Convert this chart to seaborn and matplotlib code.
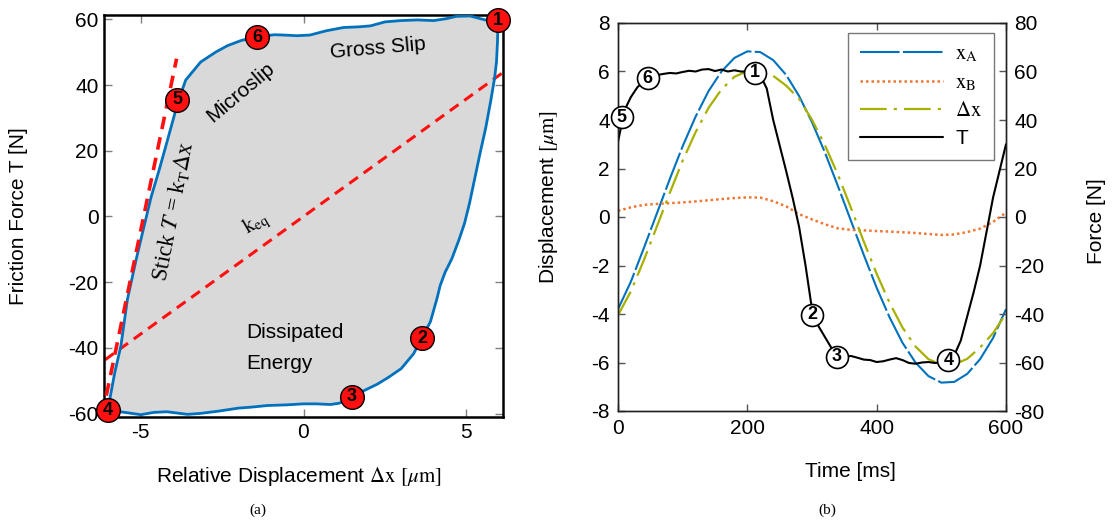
import matplotlib
matplotlib.use("Agg")
import matplotlib.pyplot as plt
import seaborn as sns
import pandas as pd

# ---------------- data: panel (a) hysteresis loop ----------------
loop_dx = [-6.02, -5.97, -5.8, -5.61, -5.41, -5.14, -4.9, -4.68, -4.44, -4.2, -3.98,
           -3.85, -3.62, -3.16, -2.7, -2.33, -1.9, -1.42, -0.9, -0.6, -0.2, 0.2, 0.7,
           1.23, 1.7, 2.06, 2.5, 2.98, 3.5, 4.0, 4.4, 4.7, 5.12, 5.58, 5.98,
           5.96, 5.93, 5.87, 5.75, 5.6, 5.42, 5.25, 5.1, 4.95, 4.78, 4.56, 4.35, 4.2, 4.1,
           3.9, 3.65, 3.38, 3.0, 2.6, 2.27, 1.75, 1.5, 1.1, 0.83, 0.4, 0.0, -0.5, -1.1,
           -1.6, -2.0, -2.6, -3.16, -3.56, -4.2, -4.6, -5.0, -5.35, -5.7, -6.02]
loop_T = [-59.5, -56.5, -47.5, -39.3, -25.2, -13.0, -3.0, 6.0, 14.0, 22.5, 30.4,
          35.0, 41.5, 47, 50, 52, 53.6, 54.6, 55.3, 55.2, 55.0, 55.2, 56.5,
          57.5, 57.7, 58.0, 59.2, 59.6, 59.8, 59.6, 60.2, 60.9, 61.0, 59.8, 59.7,
          53, 47, 42, 35, 27, 19, 11, 4, -2, -7, -12.8, -17, -21, -25,
          -32, -36.7, -41.8, -46.3, -49, -51, -53.5, -55, -56.8, -57.2, -57.0, -57.0, -57.3, -57.5,
          -58.0, -58.3, -59.2, -59.9, -60.2, -59.4, -59.6, -60.3, -59.8, -59.3, -59.5]

stick_dx = [-6.06, -3.9]
stick_T = [-54.5, 48.0]
keq_dx = [-6.1, 6.1]
keq_T = [-43.6, 43.6]

pts_a_labels = ["1", "2", "3", "4", "5", "6"]
pts_a_dx = [5.98, 3.64, 1.49, -6.02, -3.88, -1.42]
pts_a_T = [59.7, -37.0, -54.9, -59.0, 35.5, 54.6]

# ---------------- data: panel (b) time histories ----------------
time_ms = [0, 20, 40, 60, 80, 100, 120, 140, 160, 180, 200, 220, 240, 260, 280, 300,
           320, 340, 360, 380, 400, 420, 440, 460, 480, 500, 520, 540, 560, 580, 600]
xA = [-3.80, -2.66, -1.28, 0.14, 1.56, 2.92, 4.14, 5.19, 6.00, 6.56, 6.83, 6.80, 6.47, 5.86,
      4.99, 3.91, 2.66, 1.28, -0.14, -1.56, -2.92, -4.14, -5.19, -6.00, -6.56, -6.83, -6.80,
      -6.47, -5.86, -4.99, -3.80]
xB = [0.25, 0.40, 0.50, 0.54, 0.57, 0.60, 0.64, 0.69, 0.74, 0.78, 0.81, 0.80, 0.65, 0.44,
      0.12, -0.10, -0.30, -0.47, -0.53, -0.55, -0.58, -0.60, -0.63, -0.66, -0.70, -0.74, -0.72,
      -0.62, -0.48, -0.20, 0.18]
dx = [-4.05, -3.06, -1.78, -0.40, 0.99, 2.32, 3.50, 4.50, 5.26, 5.78, 6.02, 6.00, 5.82, 5.42,
      4.87, 4.01, 2.96, 1.75, 0.39, -1.01, -2.34, -3.54, -4.56, -5.34, -5.86, -6.09, -6.08,
      -5.85, -5.38, -4.79, -3.98]

time_T = [0, 10, 20, 30, 40, 50, 60, 70, 80, 90, 100, 110, 120, 130, 140, 150, 160, 170, 180,
          190, 200, 210, 220, 230, 240, 250, 260, 270, 280, 290, 300, 310, 320, 330, 340, 350,
          360, 370, 380, 390, 400, 410, 420, 430, 440, 450, 460, 470, 480, 490, 500, 510, 520,
          530, 540, 550, 560, 570, 580, 590, 600]
T = [31, 44, 49.5, 53.5, 56, 57.8, 58.5, 59, 59.4, 59.2, 59.8, 60.3, 60, 60.8, 61, 60.2, 60.8,
     60, 60.5, 60, 60, 59.8, 58.5, 53, 40, 29.5, 19, 8, -4, -20, -38, -45, -49.5, -54, -57.5,
     -57.5, -57.3, -58, -58.8, -59, -59.8, -59.5, -58.8, -58.2, -59, -60.2, -60.5, -60, -59.8,
     -60.2, -60, -59, -57, -51, -41, -31, -20, -6, 8, 19, 30]

pts_b_labels = ["5", "6", "1", "2", "3", "4"]
pts_b_t = [6, 46, 212, 300, 338, 511]
pts_b_T = [41.2, 57.3, 59.5, -40.4, -57.7, -59.0]

legend_labels = [r"$\mathrm{x}_\mathrm{A}$", r"$\mathrm{x}_\mathrm{B}$", r"$\Delta\mathrm{x}$", "T"]

# ---------------- style ----------------
sns.set_theme(style="white")
plt.rcParams["font.family"] = ["Liberation Sans", "DejaVu Sans"]
plt.rcParams["mathtext.fontset"] = "stix"
plt.rcParams["axes.unicode_minus"] = False
plt.rcParams["text.color"] = "black"
plt.rcParams["axes.labelcolor"] = "black"
plt.rcParams["xtick.labelcolor"] = "black"
plt.rcParams["ytick.labelcolor"] = "black"
FS = 15

BLUE = "#0072BD"
ORANGE = "#EE7733"
OLIVE = "#A8B000"
RED = "#FF1010"

fig = plt.figure(figsize=(11.12, 5.22), dpi=100)
W, H = 1112, 522
ax1 = fig.add_axes([104 / W, (H - 417) / H, 399 / W, 402 / H])
ax2 = fig.add_axes([618 / W, (H - 411) / H, 388 / W, 388 / H])

# ---------------- panel (a) ----------------
ax1.fill(loop_dx, loop_T, color="#d9d9d9", zorder=1, lw=0)
sns.lineplot(x=keq_dx, y=keq_T, ax=ax1, color=RED, lw=2.2, linestyle=(0, (3.5, 2.3)),
             estimator=None, sort=False, zorder=2)
sns.lineplot(x=loop_dx, y=loop_T, ax=ax1, color=BLUE, lw=2.0, estimator=None, sort=False, zorder=3)
sns.lineplot(x=stick_dx, y=stick_T, ax=ax1, color=RED, lw=2.6, linestyle=(0, (3.5, 2.3)),
             estimator=None, sort=False, zorder=4)
sns.scatterplot(x=pts_a_dx, y=pts_a_T, ax=ax1, s=290, color=RED, edgecolor="black",
                linewidth=1.0, zorder=6, clip_on=False)
for lab, xv, yv in zip(pts_a_labels, pts_a_dx, pts_a_T):
    ax1.text(xv, yv, lab, ha="center", va="center", fontsize=13, fontweight="bold",
             zorder=7, clip_on=False)

ax1.set_xlim(-6.13, 6.13)
ax1.set_ylim(-61.0, 61.3)
ax1.set_xticks([-5, 0, 5])
ax1.set_yticks([-60, -40, -20, 0, 20, 40, 60])
ax1.set_xticklabels(["-5", "0", "5"])
ax1.set_yticklabels(["-60", "-40", "-20", "0", "20", "40", "60"])
ax1.tick_params(direction="in", length=6, width=1, color="#808080", labelsize=FS,
                labelcolor="black", top=True, right=True, bottom=True, left=True, pad=4)
for sp in ax1.spines.values():
    sp.set_linewidth(1.8)
    sp.set_color("black")
ax1.set_xlabel(r"Relative Displacement $\Delta\mathrm{x}$ $[\mu\mathrm{m}]$", fontsize=FS)
ax1.set_ylabel("Friction Force T [N]", fontsize=FS)
ax1.yaxis.set_label_coords(-0.2155, 0.5)
ax1.yaxis.label.set_va("center")
ax1.xaxis.set_label_coords(0.49, -0.149)
ax1.xaxis.label.set_va("center")

ax1.text(2.3, 51.2, "Gross Slip", fontsize=FS, rotation=5, ha="center", va="center", zorder=5)
ax1.text(-1.93, 37.9, "Microslip", fontsize=FS, rotation=40, ha="center", va="center", zorder=5)
ax1.text(-4.0, 1.5, r"Stick $T$ = k$_\mathrm{T}$$\Delta$x", fontsize=16.5,
         family=["Liberation Serif"], rotation=79, ha="center", va="center", zorder=5)
ax1.text(-1.44, -2.4, r"$\mathrm{k}_\mathrm{eq}$", fontsize=FS, rotation=30,
         ha="center", va="center", zorder=5)
ax1.text(-1.75, -40.0, "Dissipated\nEnergy", fontsize=FS, ha="left", va="center",
         linespacing=1.75, zorder=5)

# ---------------- panel (b) ----------------
ax3 = ax2.twinx()
df = pd.DataFrame({"t": time_ms, "xA": xA, "xB": xB, "dx": dx})
l1 = sns.lineplot(data=df, x="t", y="xA", ax=ax2, color=BLUE, lw=1.5,
                  linestyle=(0, (19, 1.6))).lines[-1]
l2 = sns.lineplot(data=df, x="t", y="xB", ax=ax2, color=ORANGE, lw=1.8,
                  linestyle=(0, (1.0, 1.2))).lines[-1]
l3 = sns.lineplot(data=df, x="t", y="dx", ax=ax2, color=OLIVE, lw=1.6,
                  linestyle=(0, (12, 3.2, 1.4, 3.2))).lines[-1]
l4 = sns.lineplot(x=time_T, y=T, ax=ax3, color="black", lw=1.5, estimator=None).lines[-1]
sns.scatterplot(x=pts_b_t, y=pts_b_T, ax=ax3, s=250, color="white", edgecolor="black",
                linewidth=1.2, zorder=6, clip_on=False)
for lab, xv, yv in zip(pts_b_labels, pts_b_t, pts_b_T):
    ax3.text(xv, yv, lab, ha="center", va="center", fontsize=13, fontweight="bold",
             zorder=7, clip_on=False)

ax2.set_xlim(0, 600)
ax2.set_ylim(-8, 8)
ax3.set_ylim(-80, 80)
ax2.set_xticks([0, 200, 400, 600])
ax2.set_yticks([-8, -6, -4, -2, 0, 2, 4, 6, 8])
ax3.set_yticks([-80, -60, -40, -20, 0, 20, 40, 60, 80])
ax2.tick_params(direction="in", length=5, width=1, color="#555555", labelsize=FS,
                labelcolor="black", top=True, bottom=True, left=True, right=False, pad=6)
ax3.tick_params(direction="in", length=5, width=1, color="#555555", labelsize=FS,
                labelcolor="black", pad=6)
for a in (ax2, ax3):
    for sp in a.spines.values():
        sp.set_linewidth(1.0)
        sp.set_color("#222222")
ax2.set_xlabel("Time [ms]", fontsize=FS)
ax2.set_ylabel(r"Displacement $[\mu\mathrm{m}]$", fontsize=FS)
ax3.set_ylabel("Force [N]", fontsize=FS)
ax2.xaxis.set_label_coords(0.598, -0.157)
ax2.xaxis.label.set_va("center")
ax2.yaxis.set_label_coords(-0.180, 0.55)
ax2.yaxis.label.set_va("center")
ax3.yaxis.set_label_coords(1.234, 0.49)
ax3.yaxis.label.set_va("center")
ax3.yaxis.label.set_rotation(90)

leg = ax3.legend([l1, l2, l3, l4], legend_labels, loc="upper left",
                 bbox_to_anchor=(0.593, 0.974), fontsize=FS, handlelength=4.0,
                 handletextpad=0.6, labelspacing=0.42, borderpad=0.55,
                 frameon=True, fancybox=False, borderaxespad=0)
leg.get_frame().set_edgecolor("#555555")
leg.get_frame().set_linewidth(1.0)
leg.set_zorder(10)

# captions
fig.text(258 / W, 1 - 510 / H, "(a)", family=["Liberation Serif"], fontsize=11,
         ha="center", va="center")
fig.text(827 / W, 1 - 510 / H, "(b)", family=["Liberation Serif"], fontsize=11,
         ha="center", va="center")

fig.savefig("out.png", dpi=100)
